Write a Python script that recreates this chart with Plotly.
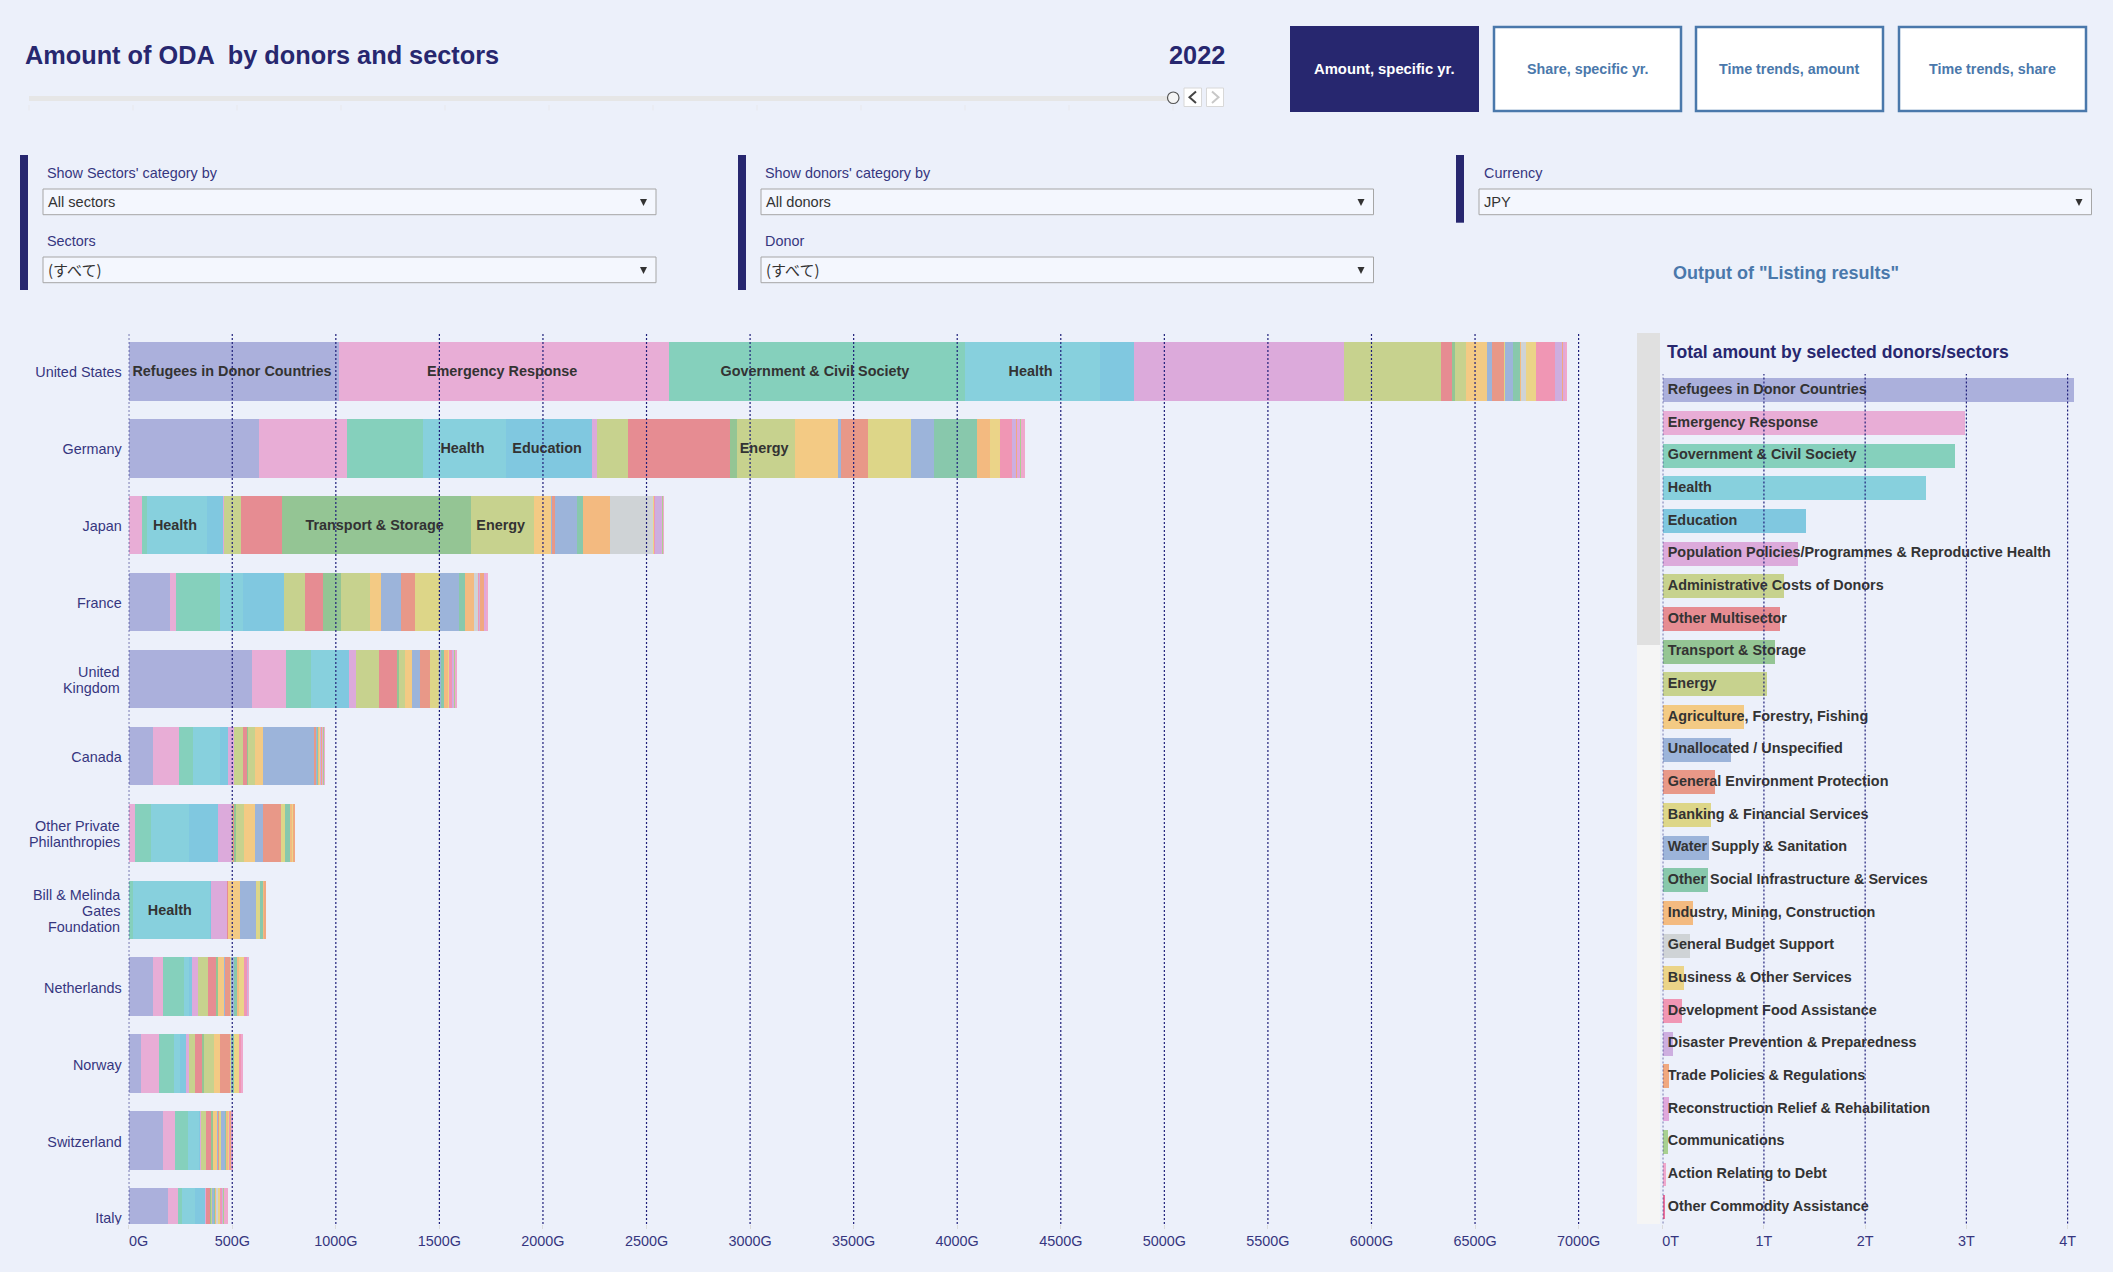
import plotly.graph_objects as go

W, H = 2113, 1272
BG = "#ECF0FA"
NAVY = "#27276F"
AXIS_TXT = "#36367F"
STEEL = "#4A78AB"
FONT = "Liberation Sans"

sectors = [
    "Refugees in Donor Countries", "Emergency Response", "Government & Civil Society",
    "Health", "Education", "Population Policies/Programmes & Reproductive Health",
    "Administrative Costs of Donors", "Other Multisector", "Transport & Storage",
    "Energy", "Agriculture, Forestry, Fishing", "Unallocated / Unspecified",
    "General Environment Protection", "Banking & Financial Services",
    "Water Supply & Sanitation", "Other Social Infrastructure & Services",
    "Industry, Mining, Construction", "General Budget Support",
    "Business & Other Services", "Development Food Assistance",
    "Disaster Prevention & Preparedness", "Trade Policies & Regulations",
    "Reconstruction Relief & Rehabilitation", "Communications",
    "Action Relating to Debt", "Other Commodity Assistance",
]
sector_colors = [
    "#ABB0DC", "#E8ADD6", "#85D0BC", "#87D0DD", "#80C8E0", "#DCAADB", "#C7D28E",
    "#E68C92", "#94C594", "#C7D28E", "#F3CA84", "#9CB4DA", "#E89888", "#DDD688",
    "#9CB4DA", "#88C8AC", "#F3BA80", "#CFD3D6", "#EBD488", "#F096B4", "#CDAEE0",
    "#F0A880", "#DFA8DC", "#A8D090", "#EFA8CC", "#E8709C",
]
# total per sector, trillion yen
sector_totals = [
    4.06, 2.985, 2.886, 2.606, 1.418, 1.339, 1.194, 1.155, 1.112, 1.03, 0.806, 0.671, 0.513,
    0.474, 0.461, 0.447, 0.299, 0.273, 0.207, 0.194, 0.102, 0.063, 0.063, 0.049, 0.03, 0.013,
]

donors = [
    "United States", "Germany", "Japan", "France", "United Kingdom", "Canada",
    "Other Private Philanthropies", "Bill & Melinda Gates Foundation", "Netherlands",
    "Norway", "Switzerland", "Italy",
]
# billion yen by sector, same order as sectors
united_states = [1017, 1591, 1429, 653, 165, 1014, 468, 55, 9, 54, 104, 25, 56, 3, 39, 37, 3, 22, 51, 92, 34, 7, 5, 3, 7, 0]
germany = [630, 424, 365, 404, 413, 27, 146, 495, 34, 279, 207, 17, 128, 209, 111, 207, 61, 3, 47, 59, 17, 5, 17, 5, 15, 0]
japan = [0, 62, 27, 288, 81, 2, 82, 199, 912, 305, 81, 5, 13, 1, 106, 27, 135, 207, 2, 8, 27, 2, 5, 2, 3, 0]
france = [200, 27, 214, 111, 197, 2, 101, 84, 89, 138, 54, 96, 71, 121, 89, 32, 41, 18, 2, 4, 5, 20, 8, 2, 10, 0]
united_kingdom = [596, 165, 121, 122, 60, 33, 111, 85, 13, 26, 34, 39, 51, 41, 9, 16, 21, 0, 2, 15, 5, 3, 3, 4, 5, 0]
canada = [119, 126, 64, 130, 40, 31, 42, 19, 5, 34, 38, 247, 8, 4, 4, 6, 2, 1, 3, 3, 3, 5, 5, 3, 3, 0]
other_private = [1, 30, 77, 182, 141, 69, 5, 3, 8, 41, 53, 40, 84, 19, 0, 26, 11, 0, 3, 3, 0, 2, 0, 0, 0, 0]
gates = [0, 0, 23, 370, 2, 80, 0, 5, 0, 0, 58, 78, 0, 19, 0, 16, 3, 0, 0, 2, 0, 3, 0, 0, 0, 0]
netherlands = [119, 48, 102, 24, 11, 31, 46, 41, 8, 0, 29, 6, 24, 5, 16, 13, 11, 0, 23, 16, 3, 0, 0, 0, 2, 0]
norway = [61, 85, 71, 32, 28, 13, 32, 32, 8, 52, 27, 2, 49, 3, 5, 8, 2, 0, 21, 11, 1, 0, 1, 0, 3, 0]
switzerland = [166, 59, 63, 53, 3, 5, 24, 23, 10, 3, 19, 5, 3, 8, 21, 4, 10, 2, 4, 4, 3, 3, 3, 1, 1, 0]
italy = [191, 45, 21, 65, 48, 2, 0, 22, 3, 4, 3, 2, 1, 3, 4, 2, 5, 10, 8, 13, 2, 4, 0, 2, 19, 0]
donor_rows = [united_states, germany, japan, france, united_kingdom, canada, other_private,
              gates, netherlands, norway, switzerland, italy]

# which segments carry a label inside the bar
bar_labels = {
    "United States": ["Refugees in Donor Countries", "Emergency Response", "Government & Civil Society", "Health"],
    "Germany": ["Health", "Education", "Energy"],
    "Japan": ["Health", "Transport & Storage", "Energy"],
    "Bill & Melinda Gates Foundation": ["Health"],
}

main_ticks = list(range(0, 7001, 500))
side_ticks = [0, 1, 2, 3, 4]
wrapped_labels = {
    "United Kingdom": ["United", "Kingdom"],
    "Other Private Philanthropies": ["Other Private", "Philanthropies"],
    "Bill & Melinda Gates Foundation": ["Bill & Melinda", "Gates", "Foundation"],
}
SMALL = 14.4
BOLD_LABEL = 14.4
GRID = dict(color="#1F1F7A", width=1.2, dash="2px,2px")


def fx(px):
    return px / W


def fy(py):
    return 1 - py / H


fig = go.Figure()

# main stacked bars
for i, name in enumerate(sectors):
    fig.add_trace(go.Bar(
        y=donors, x=[row[i] for row in donor_rows],
        orientation="h", width=0.76, name=name,
        marker=dict(color=sector_colors[i], line=dict(width=0)),
        # trailing nbsp nudges the label left of centre like the original
        text=[name + "\u00a0" if name in bar_labels.get(d, []) else "" for d in donors],
        textposition="inside", insidetextanchor="middle", textangle=0,
        constraintext="none", cliponaxis=True,
        insidetextfont=dict(family=FONT, size=BOLD_LABEL, color="#333333", weight="bold"),
        xaxis="x", yaxis="y", showlegend=False,
    ))

# side panel
fig.add_trace(go.Bar(
    y=sectors, x=sector_totals, orientation="h", width=0.734,
    marker=dict(color=sector_colors, line=dict(width=0)),
    xaxis="x2", yaxis="y2", showlegend=False,
))
fig.add_trace(go.Scatter(
    y=sectors, x=[0.05] * len(sectors), text=sectors, mode="text", textposition="middle right",
    textfont=dict(family=FONT, size=BOLD_LABEL, color="#333333", weight="bold"),
    xaxis="x2", yaxis="y2", showlegend=False, cliponaxis=False,
))

shapes = []


def rect(x0, y0, x1, y1, fill, line=None, lw=0, layer="above"):
    shapes.append(dict(type="rect", xref="paper", yref="paper", x0=fx(x0), x1=fx(x1),
                       y0=fy(y1), y1=fy(y0), fillcolor=fill, layer=layer,
                       line=dict(color=line or fill, width=lw)))


def path(points, color, fill=None, lw=1.5):
    d = "M " + " L ".join(f"{fx(x):.5f},{fy(y):.5f}" for x, y in points)
    if fill:
        d += " Z"
    shapes.append(dict(type="path", path=d, xref="paper", yref="paper", layer="above",
                       fillcolor=fill, line=dict(color=color, width=lw)))


def text(x, y, s, size=SMALL, color=AXIS_TXT, bold=False, anchor="left", family=FONT):
    fig.add_annotation(x=fx(x), y=fy(y), xref="paper", yref="paper", text=s, showarrow=False,
                       xanchor=anchor, yanchor="middle", borderpad=0, borderwidth=0,
                       font=dict(family=family, size=size, color=color,
                                 weight="bold" if bold else "normal"))


def dropdown(x0, x1, y0, value, family=FONT, size=14.6, dy=13):
    rect(x0, y0, x1, y0 + 25.7, "#F4F7FE", "#A6A6A6", 1)
    text(x0 + 5, y0 + dy, value, size, "#333333", family=family)
    path([(x1 - 16, y0 + 10), (x1 - 9, y0 + 10), (x1 - 12.5, y0 + 17)], "#333333", "#333333", 0)


# gridlines sit over the bars
for v in main_ticks:
    shapes.append(dict(type="line", xref="x", yref="y domain", x0=v, x1=v, y0=0, y1=1,
                       layer="above", line=GRID))
for v in side_ticks:
    shapes.append(dict(type="line", xref="x2", yref="y2 domain", x0=v, x1=v, y0=0, y1=1,
                       layer="above", line=GRID))

# header
text(25, 55, "Amount of ODA  by donors and sectors", 25.3, NAVY, True)
text(1225, 55, "2022", 25.3, NAVY, True, "right")
rect(29, 96, 1168, 101, "#E6E6E6")
for px in [29, 133, 237, 341, 445, 549, 653, 757, 861, 965, 1069, 1173]:
    path([(px, 105), (px, 110.5)], "#E8E8EC", lw=1)
shapes.append(dict(type="circle", xref="paper", yref="paper", layer="above", x0=fx(1167.5), x1=fx(1179),
                   y0=fy(103.5), y1=fy(92), fillcolor="#F5F5F5", line=dict(color="#555555", width=1.2)))
rect(1184, 88, 1201.5, 106.5, "#FFFFFF", "#D8D8D8", 1)
rect(1206.5, 88, 1223.5, 106.5, "#FFFFFF", "#D8D8D8", 1)
path([(1196, 91.5), (1189.5, 97.3), (1196, 103)], "#444444", lw=2)
path([(1212, 91.5), (1218.5, 97.3), (1212, 103)], "#C8C8C8", lw=2)

# view buttons
rect(1290, 26, 1479, 112, NAVY)
text(1384.5, 69, "Amount, specific yr.", 14.8, "#FFFFFF", True, "center")
for x0, x1, label in [(1494, 1681, "Share, specific yr."), (1696, 1883, "Time trends, amount"),
                      (1899, 2086, "Time trends, share")]:
    rect(x0, 27, x1, 111, "#FFFFFF", STEEL, 2.5)
    text((x0 + x1) / 2, 69, label, 14.3, STEEL, True, "center")

# filter panels
rect(20, 155, 28, 290, NAVY)
text(47, 173, "Show Sectors' category by")
dropdown(43, 656, 189, "All sectors")
text(47, 241, "Sectors")
dropdown(43, 656, 257, "(すべて)", "Noto Sans CJK JP", 15, 12)

rect(738, 155, 746, 290, NAVY)
text(765, 173, "Show donors' category by")
dropdown(761, 1373.5, 189, "All donors")
text(765, 241, "Donor")
dropdown(761, 1373.5, 257, "(すべて)", "Noto Sans CJK JP", 15, 12)

rect(1456, 155, 1464, 222.7, NAVY)
text(1483.5, 173, "Currency")
dropdown(1479, 2091.5, 189, "JPY")
text(1673, 273, 'Output of "Listing results"', 18, STEEL, True)

# side panel title and scrollbar
text(1667, 352.5, "Total amount by selected donors/sectors", 17.6, NAVY, True)
rect(1637, 333, 1660, 1224, "#F5F5F5", layer="below")
rect(1637, 333, 1660, 645, "#E0E0E0", layer="below")

# Italy's label is cut by the scrolling pane
rect(0, 1224.5, 127, 1232, BG)

# wrapped donor names
for d, lines in wrapped_labels.items():
    for i, line in enumerate(lines):
        fig.add_annotation(x=fx(120.5), xref="paper", y=d, yref="y", text=line, showarrow=False,
                           xanchor="right", yanchor="middle", borderpad=0,
                           yshift=-(i - (len(lines) - 1) / 2) * 16 - 1,
                           font=dict(family=FONT, size=SMALL, color=AXIS_TXT))

fig.update_layout(
    width=W, height=H, template="none", barmode="stack",
    paper_bgcolor=BG, plot_bgcolor=BG,
    margin=dict(l=0, r=0, t=0, b=0, pad=0),
    font=dict(family=FONT, size=SMALL, color=AXIS_TXT),
    shapes=shapes,
    xaxis=dict(
        domain=[fx(128.7), fx(1590)], range=[0, 7055], anchor="y", showgrid=False, zeroline=False,
        showline=False, tickmode="array", tickvals=main_ticks,
        ticktext=["\u00a0" * 5 + "0G"] + [f"{v}G" for v in main_ticks[1:]],
        ticks="outside", ticklen=4, tickcolor="#DADADA",
        tickfont=dict(family=FONT, size=SMALL, color=AXIS_TXT),
    ),
    yaxis=dict(
        domain=[fy(1224), fy(333)], range=[11.086, -0.5], anchor="x", type="category",
        categoryorder="array", categoryarray=donors, showgrid=False, zeroline=False, showline=False,
        tickmode="array", tickvals=donors,
        ticktext=["" if d in wrapped_labels else d for d in donors],
        ticks="", ticklabelstandoff=6, ticklabelshift=-1,
        tickfont=dict(family=FONT, size=SMALL, color=AXIS_TXT),
    ),
    xaxis2=dict(
        domain=[fx(1662.7), fx(2100)], range=[0, 4.32], anchor="y2", showgrid=False, zeroline=False,
        showline=False, tickmode="array", tickvals=side_ticks,
        ticktext=["\u00a0" * 4 + "0T"] + [f"{v}T" for v in side_ticks[1:]],
        ticks="outside", ticklen=4, tickcolor="#DADADA",
        tickfont=dict(family=FONT, size=SMALL, color=AXIS_TXT),
    ),
    yaxis2=dict(
        domain=[fy(1223.5), fy(374)], range=[25.5, -0.5], anchor="x2", type="category",
        categoryorder="array", categoryarray=sectors, showgrid=False, zeroline=False, showline=False,
        showticklabels=False, ticks="",
    ),
)

fig.write_html("out.html", post_script="document.body.style.margin='0';",
               config={"displayModeBar": False})
